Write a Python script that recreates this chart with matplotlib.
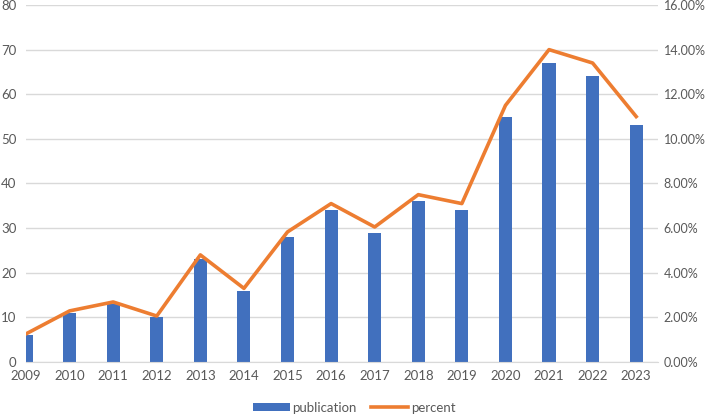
import matplotlib.pyplot as plt
import numpy as np
from matplotlib.ticker import FuncFormatter

years = ["2009", "2010", "2011", "2012", "2013", "2014", "2015", "2016",
         "2017", "2018", "2019", "2020", "2021", "2022", "2023"]
publication = [6, 11, 13, 10, 23, 16, 28, 34, 29, 36, 34, 55, 67, 64, 53]
percent = [1.26, 2.29, 2.69, 2.06, 4.8, 3.3, 5.83, 7.1, 6.05, 7.5, 7.1,
           11.5, 14.0, 13.4, 11.0]

plt.rcParams['font.family'] = ['Lato', 'DejaVu Sans']
gray = "#595959"

fig = plt.figure(figsize=(7.08, 4.15), dpi=100)
ax = fig.add_axes([26/708, 53/415, 632/708, 357/415])
ax2 = ax.twinx()

x = np.arange(len(years))
ax.bar(x, publication, width=0.3, color="#4170BE", label="publication", zorder=2)
ax2.plot(x, percent, color="#ED7D31", lw=2.6, label="percent", zorder=3)

ax.set_xlim(0, len(years) - 0.5)
ax.set_ylim(0, 80)
ax.set_yticks(range(0, 81, 10))
ax2.set_ylim(0, 16)
ax2.set_yticks(range(0, 17, 2))
ax2.yaxis.set_major_formatter(FuncFormatter(lambda v, p: f"{v:.2f}%"))
ax.set_xticks(x)
ax.set_xticklabels(years)

ax.grid(axis="y", color="#D9D9D9", lw=1, zorder=0)
ax.set_axisbelow(True)
for a in (ax, ax2):
    for s in a.spines.values():
        s.set_visible(False)
    a.tick_params(length=0, colors=gray, labelsize=9.5)
ax2.tick_params(labelsize=9)
ax.spines["bottom"].set_visible(True)
ax.spines["bottom"].set_color("#D9D9D9")
ax.tick_params(axis="y", pad=7)
ax.tick_params(axis="x", pad=6)
ax2.tick_params(axis="y", pad=4)

h1, l1 = ax.get_legend_handles_labels()
h2, l2 = ax2.get_legend_handles_labels()
fig.legend(h1 + h2, l1 + l2, loc="lower center", bbox_to_anchor=(0.5, -0.025),
           ncol=2, frameon=False, fontsize=9.5, labelcolor=gray,
           handlelength=2.8, handleheight=0.5, columnspacing=1.1, handletextpad=0.2)

fig.savefig("out.png", dpi=100)
